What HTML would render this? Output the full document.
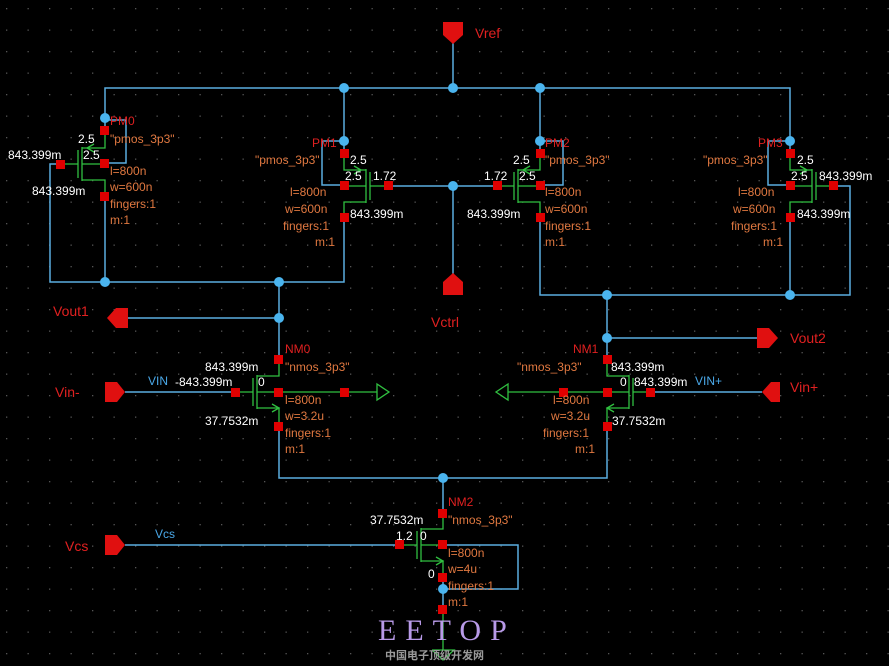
<!DOCTYPE html>
<html><head><meta charset="utf-8"><style>
body{margin:0;background:#000;width:889px;height:666px;overflow:hidden}
svg{display:block}
.w{fill:#fff}.o{fill:#e07840}.r{fill:#e02020}.b{fill:#4aa8e8}
text{font-family:"Liberation Sans",sans-serif;font-size:12px}
.pl{font-size:14px;fill:#e02020}
</style></head><body>
<svg width="889" height="666" viewBox="0 0 889 666">
<defs><pattern id="g" width="21.5" height="21.5" patternUnits="userSpaceOnUse" x="6" y="8"><rect width="1.3" height="1.3" fill="#555"/></pattern></defs>
<rect width="889" height="666" fill="url(#g)"/>
<g stroke="#5aaee0" stroke-width="1.5" fill="none">
<polyline points="105,131 105,88 790,88 790,141"/>
<line x1="453" y1="42" x2="453" y2="88"/>
<line x1="344" y1="88" x2="344" y2="153"/><line x1="540" y1="88" x2="540" y2="153"/>
<polyline points="105,163 126,163 126,120 105,120"/>
<polyline points="61,164 50,164 50,282 344,282 344,218"/>
<line x1="105" y1="197" x2="105" y2="282"/>
<polyline points="344,185 322,185 322,141 344,141"/>
<line x1="388" y1="186" x2="497" y2="186"/>
<line x1="453" y1="186" x2="453" y2="275"/>
<polyline points="540,185 563,185 563,141 540,141"/>
<polyline points="790,153 790,141"/>
<polyline points="790,185 768,185 768,141 790,141"/>
<polyline points="540,218 540,295 850,295 850,186 833,186"/>
<line x1="790" y1="218" x2="790" y2="295"/>
<line x1="279" y1="282" x2="279" y2="359"/>
<line x1="128" y1="318" x2="279" y2="318"/>
<line x1="607" y1="295" x2="607" y2="359"/>
<line x1="607" y1="338" x2="757" y2="338"/>
<line x1="125" y1="392" x2="236" y2="392"/>
<line x1="650" y1="392" x2="762" y2="392"/>
<polyline points="279,426 279,478 607,478 607,426"/>
<line x1="443" y1="478" x2="443" y2="513"/>
<line x1="125" y1="545" x2="399" y2="545"/>
<polyline points="443,545 518,545 518,589 443,589"/>
<line x1="443" y1="578" x2="443" y2="612"/>
</g>
<g stroke="#30c040" stroke-width="1.3" fill="none">
<line x1="78" y1="150" x2="78" y2="178"/><line x1="82" y1="147" x2="82" y2="181"/>
<line x1="61" y1="164" x2="78" y2="164"/>
<polyline points="105,131 105,148 82,148"/><polyline points="82,180 105,180 105,197"/><line x1="82" y1="164" x2="105" y2="164"/>
<polyline points="94,144 87,148 94,152"/>
<line x1="370" y1="172" x2="370" y2="200"/><line x1="366" y1="169" x2="366" y2="203"/>
<line x1="370" y1="186" x2="388" y2="186"/>
<polyline points="344,153 344,170 366,170"/><polyline points="366,202 344,202 344,218"/><line x1="344" y1="186" x2="366" y2="186"/>
<polyline points="354,166 361,170 354,174"/>
<line x1="514" y1="172" x2="514" y2="200"/><line x1="518" y1="169" x2="518" y2="203"/>
<line x1="497" y1="186" x2="514" y2="186"/>
<polyline points="540,153 540,170 518,170"/><polyline points="518,202 540,202 540,218"/><line x1="518" y1="186" x2="540" y2="186"/>
<polyline points="530,166 523,170 530,174"/>
<line x1="816" y1="172" x2="816" y2="200"/><line x1="812" y1="169" x2="812" y2="203"/>
<line x1="816" y1="186" x2="833" y2="186"/>
<polyline points="790,153 790,170 812,170"/><polyline points="812,202 790,202 790,218"/><line x1="790" y1="186" x2="812" y2="186"/>
<polyline points="800,166 807,170 800,174"/>
<line x1="253" y1="378" x2="253" y2="406"/><line x1="257" y1="375" x2="257" y2="409"/>
<line x1="236" y1="392" x2="253" y2="392"/>
<polyline points="279,359 279,376 257,376"/><polyline points="257,408 279,408 279,426"/><line x1="257" y1="392" x2="344" y2="392"/>
<polyline points="272,404 279,408 272,412"/>
<line x1="344" y1="392" x2="377" y2="392"/><polygon points="377,384 389,392 377,400"/>
<line x1="633" y1="378" x2="633" y2="406"/><line x1="629" y1="375" x2="629" y2="409"/>
<line x1="633" y1="392" x2="650" y2="392"/>
<polyline points="607,359 607,376 629,376"/><polyline points="629,408 607,408 607,426"/><line x1="629" y1="392" x2="563" y2="392"/>
<polyline points="614,404 607,408 614,412"/>
<line x1="563" y1="392" x2="508" y2="392"/><polygon points="508,384 496,392 508,400"/>
<line x1="417" y1="531" x2="417" y2="559"/><line x1="421" y1="528" x2="421" y2="562"/>
<line x1="399" y1="545" x2="417" y2="545"/>
<polyline points="443,513 443,529 421,529"/><polyline points="421,561 443,561 443,578"/><line x1="421" y1="545" x2="443" y2="545"/>
<polyline points="436,557 443,561 436,565"/>
<line x1="443" y1="612" x2="443" y2="650"/><polyline points="432,650 454,650 443,660 432,650"/>
</g>
<g fill="#e01010">
<polygon points="443,22 463,22 463,35 453,44 443,35"/>
<polygon points="443,295 463,295 463,282 453,273 443,282"/>
<polygon points="128,308 128,328 116,328 107,318 116,308"/>
<polygon points="757,328 757,348 769,348 778,338 769,328"/>
<polygon points="105,382 105,402 117,402 125,392 117,382"/>
<polygon points="780,382 780,402 771,402 762,392 771,382"/>
<polygon points="105,535 105,555 117,555 125,545 117,535"/>
</g>
<g fill="#e00000">
<rect x="100" y="126" width="9" height="9"/><rect x="100" y="159" width="9" height="9"/><rect x="100" y="192" width="9" height="9"/><rect x="56" y="160" width="9" height="9"/>
<rect x="340" y="149" width="9" height="9"/><rect x="340" y="181" width="9" height="9"/><rect x="340" y="213" width="9" height="9"/><rect x="384" y="181" width="9" height="9"/>
<rect x="536" y="149" width="9" height="9"/><rect x="536" y="181" width="9" height="9"/><rect x="536" y="213" width="9" height="9"/><rect x="493" y="181" width="9" height="9"/>
<rect x="786" y="149" width="9" height="9"/><rect x="786" y="181" width="9" height="9"/><rect x="786" y="213" width="9" height="9"/><rect x="829" y="181" width="9" height="9"/>
<rect x="274" y="355" width="9" height="9"/><rect x="274" y="388" width="9" height="9"/><rect x="274" y="422" width="9" height="9"/><rect x="231" y="388" width="9" height="9"/><rect x="340" y="388" width="9" height="9"/>
<rect x="603" y="355" width="9" height="9"/><rect x="603" y="388" width="9" height="9"/><rect x="603" y="422" width="9" height="9"/><rect x="646" y="388" width="9" height="9"/><rect x="559" y="388" width="9" height="9"/>
<rect x="438" y="509" width="9" height="9"/><rect x="438" y="540" width="9" height="9"/><rect x="438" y="573" width="9" height="9"/><rect x="395" y="540" width="9" height="9"/><rect x="438" y="605" width="9" height="9"/>
</g>
<g fill="#4ab4ee">
<circle cx="344" cy="88" r="5"/><circle cx="453" cy="88" r="5"/><circle cx="540" cy="88" r="5"/>
<circle cx="105" cy="118" r="5"/><circle cx="344" cy="141" r="5"/><circle cx="540" cy="141" r="5"/><circle cx="790" cy="141" r="5"/>
<circle cx="453" cy="186" r="5"/>
<circle cx="105" cy="282" r="5"/><circle cx="279" cy="282" r="5"/><circle cx="607" cy="295" r="5"/><circle cx="790" cy="295" r="5"/>
<circle cx="279" cy="318" r="5"/><circle cx="607" cy="338" r="5"/><circle cx="443" cy="478" r="5"/><circle cx="443" cy="589" r="5"/>
</g>
<g>
<text class="pl" x="475" y="38">Vref</text><text class="pl" x="53" y="316">Vout1</text><text class="pl" x="431" y="327">Vctrl</text>
<text class="pl" x="790" y="343">Vout2</text><text class="pl" x="55" y="397">Vin-</text><text class="pl" x="790" y="392">Vin+</text><text class="pl" x="65" y="551">Vcs</text>
<text class="b" x="148" y="385">VIN</text><text class="b" x="695" y="385">VIN+</text><text class="b" x="155" y="538">Vcs</text>
<text class="r" x="110" y="125">PM0</text><text class="w" x="78" y="143">2.5</text><text class="o" x="110" y="143">"pmos_3p3"</text>
<text class="w" x="8" y="159">843.399m</text><text class="w" x="83" y="159">2.5</text><text class="o" x="110" y="175">l=800n</text>
<text class="w" x="32" y="195">843.399m</text><text class="o" x="110" y="191">w=600n</text><text class="o" x="110" y="208">fingers:1</text><text class="o" x="110" y="224">m:1</text>
<text class="r" x="312" y="147">PM1</text><text class="o" x="255" y="164">"pmos_3p3"</text><text class="w" x="350" y="164">2.5</text>
<text class="w" x="345" y="180">2.5</text><text class="w" x="373" y="180">1.72</text><text class="o" x="290" y="196">l=800n</text>
<text class="o" x="285" y="213">w=600n</text><text class="w" x="350" y="218">843.399m</text><text class="o" x="283" y="230">fingers:1</text><text class="o" x="315" y="246">m:1</text>
<text class="r" x="545" y="147">PM2</text><text class="w" x="513" y="164">2.5</text><text class="o" x="545" y="164">"pmos_3p3"</text>
<text class="w" x="484" y="180">1.72</text><text class="w" x="519" y="180">2.5</text><text class="o" x="545" y="196">l=800n</text>
<text class="w" x="467" y="218">843.399m</text><text class="o" x="545" y="213">w=600n</text><text class="o" x="545" y="230">fingers:1</text><text class="o" x="545" y="246">m:1</text>
<text class="r" x="758" y="147">PM3</text><text class="o" x="703" y="164">"pmos_3p3"</text><text class="w" x="797" y="164">2.5</text>
<text class="w" x="791" y="180">2.5</text><text class="w" x="819" y="180">843.399m</text><text class="o" x="738" y="196">l=800n</text>
<text class="o" x="733" y="213">w=600n</text><text class="w" x="797" y="218">843.399m</text><text class="o" x="731" y="230">fingers:1</text><text class="o" x="763" y="246">m:1</text>
<text class="r" x="285" y="353">NM0</text><text class="w" x="205" y="371">843.399m</text><text class="o" x="285" y="371">"nmos_3p3"</text>
<text class="w" x="175" y="386">-843.399m</text><text class="w" x="258" y="386">0</text><text class="o" x="285" y="404">l=800n</text>
<text class="w" x="205" y="425">37.7532m</text><text class="o" x="285" y="420">w=3.2u</text><text class="o" x="285" y="437">fingers:1</text><text class="o" x="285" y="453">m:1</text>
<text class="r" x="573" y="353">NM1</text><text class="o" x="517" y="371">"nmos_3p3"</text><text class="w" x="611" y="371">843.399m</text>
<text class="w" x="620" y="386">0</text><text class="w" x="634" y="386">843.399m</text><text class="o" x="553" y="404">l=800n</text>
<text class="o" x="551" y="420">w=3.2u</text><text class="w" x="612" y="425">37.7532m</text><text class="o" x="543" y="437">fingers:1</text><text class="o" x="575" y="453">m:1</text>
<text class="r" x="448" y="506">NM2</text><text class="w" x="370" y="524">37.7532m</text><text class="o" x="448" y="524">"nmos_3p3"</text>
<text class="w" x="396" y="540">1.2</text><text class="w" x="420" y="540">0</text><text class="o" x="448" y="557">l=800n</text>
<text class="w" x="428" y="578">0</text><text class="o" x="448" y="573">w=4u</text><text class="o" x="448" y="590">fingers:1</text><text class="o" x="448" y="606">m:1</text>
<text x="378" y="640" style="font-family:'Liberation Serif',serif;font-size:30px;fill:#b89ae8;letter-spacing:9px">EETOP</text>
<text x="385" y="659" style="font-family:'Liberation Sans','Noto Sans CJK SC',sans-serif;font-size:11px;fill:#999;font-weight:bold">中国电子顶级开发网</text>
</g>
</svg>
</body></html>
